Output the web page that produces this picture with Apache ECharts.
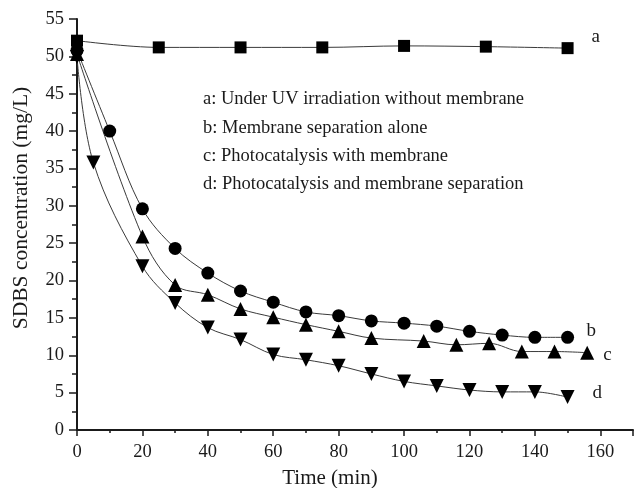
<!DOCTYPE html>
<html>
<head>
<meta charset="utf-8">
<script src="https://cdn.jsdelivr.net/npm/echarts@6/dist/echarts.min.js"></script>
<style>
  html, body { margin: 0; padding: 0; background: #fff; }
  #chart { width: 636px; height: 488px; }
</style>
</head>
<body>
<div id="chart"></div>
<script>
// SDBS concentration (mg/L) against time (min) for four treatments
const timeA = [0, 25, 50, 75, 100, 125, 150];
const concA = [52.1, 51.2, 51.2, 51.2, 51.4, 51.3, 51.1];

const timeB = [0, 10, 20, 30, 40, 50, 60, 70, 80, 90, 100, 110, 120, 130, 140, 150];
const concB = [50.8, 40.0, 29.6, 24.3, 21.0, 18.6, 17.1, 15.8, 15.3, 14.6, 14.3, 13.9, 13.2, 12.7, 12.4, 12.4];

const timeC = [0, 20, 30, 40, 50, 60, 70, 80, 90, 106, 116, 126, 136, 146, 156];
const concC = [50.3, 25.9, 19.4, 18.1, 16.2, 15.1, 14.1, 13.2, 12.3, 11.9, 11.4, 11.6, 10.5, 10.5, 10.35];

const timeD = [0, 5, 20, 30, 40, 50, 60, 70, 80, 90, 100, 110, 120, 130, 140, 150];
const concD = [49.9, 35.8, 21.9, 17.0, 13.7, 12.1, 10.1, 9.4, 8.6, 7.5, 6.5, 5.9, 5.35, 5.1, 5.1, 4.4];

const seriesNames = [
  'a: Under UV irradiation without membrane',
  'b: Membrane separation alone',
  'c: Photocatalysis with membrane',
  'd: Photocatalysis and membrane separation'
];
const curveTags = ['a', 'b', 'c', 'd'];

const xTicks = [0, 20, 40, 60, 80, 100, 120, 140, 160];
const yTicks = [0, 5, 10, 15, 20, 25, 30, 35, 40, 45, 50, 55];

const serif = "'Liberation Serif', 'Times New Roman', serif";
const ink = '#1a1a1a';

function pairs(xs, ys) { return xs.map((x, i) => [x, ys[i]]); }

function curve(i, xs, ys, symbol, size, labelOffset) {
  return {
    name: seriesNames[i],
    type: 'line',
    data: pairs(xs, ys),
    smooth: 0.35,
    symbol: symbol,
    symbolSize: size,
    showAllSymbol: true,
    clip: false,
    itemStyle: { color: '#000' },
    lineStyle: { color: '#3a3a3a', width: 1 },
    endLabel: {
      show: true,
      formatter: curveTags[i],
      distance: 5,
      offset: labelOffset,
      color: ink,
      fontFamily: serif,
      fontSize: 19
    }
  };
}

const chart = echarts.init(document.getElementById('chart'), null, { renderer: 'canvas' });

chart.setOption({
  animation: false,
  backgroundColor: '#fff',
  grid: { left: 77, top: 19, width: 561, height: 411, containLabel: false },
  legend: {
    data: seriesNames,
    orient: 'vertical',
    left: 193,
    top: 85,
    icon: 'none',
    itemWidth: 0,
    itemHeight: 18,
    itemGap: 9.3,
    selectedMode: false,
    textStyle: { color: ink, fontFamily: serif, fontSize: 18.5, lineHeight: 18 }
  },
  xAxis: {
    type: 'value',
    min: 0,
    max: 170,
    interval: 20,
    splitLine: { show: false },
    axisLine: { onZero: false, lineStyle: { color: ink, width: 2 } },
    axisTick: { inside: false, length: 6, lineStyle: { color: ink, width: 1.5 } },
    minorTick: { show: true, splitNumber: 2, length: 3, lineStyle: { color: ink, width: 1.5 } },
    axisLabel: {
      margin: 13,
      color: ink,
      fontFamily: serif,
      fontSize: 18.5,
      formatter: v => (xTicks.indexOf(v) >= 0 ? String(v) : '')
    }
  },
  yAxis: {
    type: 'value',
    min: 0,
    max: 55,
    interval: 5,
    splitLine: { show: false },
    axisLine: { onZero: false, lineStyle: { color: ink, width: 2 } },
    axisTick: { inside: false, length: 8, lineStyle: { color: ink, width: 1.5 } },
    minorTick: { show: true, splitNumber: 2, length: 5, lineStyle: { color: ink, width: 1.5 } },
    axisLabel: {
      margin: 13,
      color: ink,
      fontFamily: serif,
      fontSize: 18.5,
      formatter: v => (yTicks.indexOf(v) >= 0 ? String(v) : '')
    }
  },
  graphic: [
    {
      type: 'text',
      x: 330, y: 478,
      style: { text: 'Time (min)', fill: ink, font: "21px " + serif, align: 'center', verticalAlign: 'middle' }
    },
    {
      type: 'text',
      x: 21, y: 208,
      rotation: Math.PI / 2,
      style: { text: 'SDBS concentration (mg/L)', fill: ink, font: "21.5px " + serif, align: 'center', verticalAlign: 'middle' }
    }
  ],
  series: [
    curve(0, timeA, concA, 'rect', 12, [19, -11]),
    curve(1, timeB, concB, 'circle', 13, [14, -6]),
    curve(2, timeC, concC, 'triangle', 14, [11, 2]),
    curve(3, timeD, concD, 'path://M0,0 L2,0 L1,1.7 Z', 14, [20, -4])
  ]
});
</script>
</body>
</html>
